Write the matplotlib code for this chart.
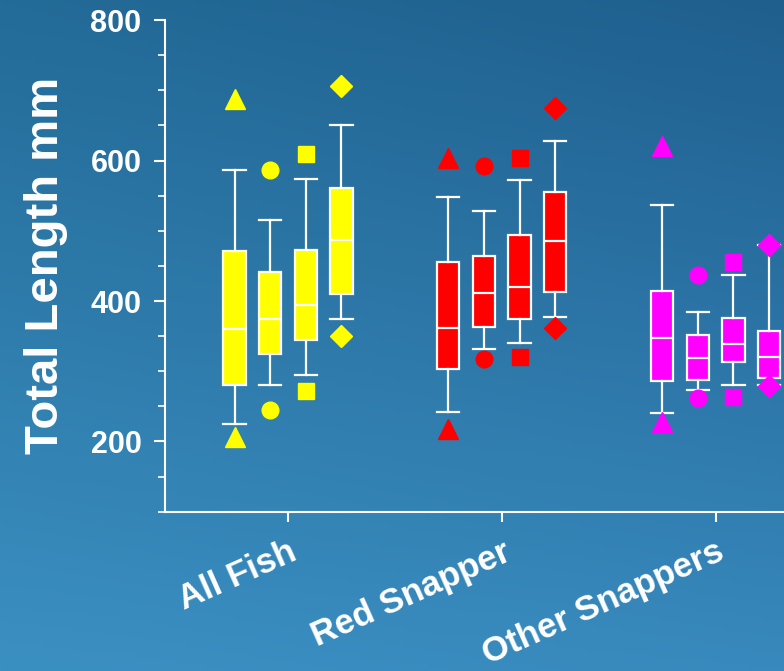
import numpy as np
import matplotlib
matplotlib.use("Agg")
import matplotlib.pyplot as plt
from matplotlib.ticker import MultipleLocator
from matplotlib.transforms import ScaledTranslation

plt.rcParams['font.family'] = ['Liberation Sans', 'DejaVu Sans']
plt.rcParams['font.weight'] = 'bold'

groups = ["All Fish", "Red Snapper", "Other Snappers"]
colors = ["#ffff00", "#ff0000", "#ff00ff"]
markers = ["^", "o", "s", "D"]
marker_sizes = [14, 12, 11, 11]

# per series (one per marker), values listed for the three groups
q1 = [[280, 303, 286], [325, 363, 287], [345, 374, 313], [410, 413, 290]]
med = [[360, 362, 347], [374, 411, 319], [395, 420, 339], [487, 486, 321]]
q3 = [[471, 455, 414], [441, 464, 352], [472, 494, 376], [561, 555, 357]]
whis_lo = [[225, 242, 241], [281, 331, 273], [295, 340, 280], [375, 377, 280]]
whis_hi = [[587, 548, 537], [515, 528, 385], [574, 573, 437], [650, 628, 480]]
low_pts = [[207, 218, 228], [245, 317, 262], [272, 321, 264], [350, 361, 279]]
high_pts = [[688, 603, 621], [586, 592, 437], [609, 604, 456], [706, 675, 480]]

fig = plt.figure(figsize=(7.84, 6.71), dpi=100)

# background gradient
bg = fig.add_axes([0, 0, 1, 1], zorder=-10)
tl = np.array([0x23, 0x6b, 0x98]) / 255
tr = np.array([0x1f, 0x5f, 0x8e]) / 255
bl = np.array([0x3b, 0x90, 0xc2]) / 255
br = np.array([0x38, 0x89, 0xbd]) / 255
yy, xx = np.mgrid[0:1:200j, 0:1:200j]
grad = ((1 - yy)[..., None] * ((1 - xx)[..., None] * tl + xx[..., None] * tr)
        + yy[..., None] * ((1 - xx)[..., None] * bl + xx[..., None] * br))
bg.imshow(grad, aspect='auto', extent=[0, 1, 0, 1])
bg.axis('off')

ax = fig.add_axes([0.2105, 0.2374, 0.7895, 0.7326])
ax.patch.set_alpha(0)

offsets = [-1.5 / 6, -0.5 / 6, 0.5 / 6, 1.5 / 6]
for k in range(4):
    for g in range(3):
        pos = g + 1 + offsets[k]
        stats = [dict(med=med[k][g], q1=q1[k][g], q3=q3[k][g],
                      whislo=whis_lo[k][g], whishi=whis_hi[k][g],
                      fliers=[low_pts[k][g], high_pts[k][g]])]
        ax.bxp(stats, positions=[pos], widths=0.104, patch_artist=True,
               manage_ticks=False,
               boxprops=dict(facecolor=colors[g], edgecolor='white', linewidth=1.6),
               medianprops=dict(color='white', linewidth=1.6),
               whiskerprops=dict(color='white', linewidth=1.6),
               capprops=dict(color='white', linewidth=1.6),
               capwidths=0.104,
               flierprops=dict(marker=markers[k], markerfacecolor=colors[g],
                               markeredgecolor=colors[g],
                               markersize=marker_sizes[k]))

ax.set_xlim(0.425, 3.32)
ax.set_ylim(100, 800)
ax.set_xticks([1, 2, 3])
ax.set_xticklabels(groups, rotation=24, ha='right', rotation_mode='anchor',
                   fontsize=25, color='white', fontweight='bold')
# nudge the slanted labels a little to the right of their ticks
shift = ScaledTranslation(15 / 100, 0, fig.dpi_scale_trans)
for lbl in ax.get_xticklabels():
    lbl.set_transform(lbl.get_transform() + shift)
ax.set_yticks([200, 400, 600, 800])
ax.yaxis.set_minor_locator(MultipleLocator(50))
ax.tick_params(axis='y', which='major', colors='white', labelsize=22, length=8, width=1.5, pad=9)
ax.tick_params(axis='y', which='minor', colors='white', length=5, width=1.2)
ax.tick_params(axis='x', colors='white', length=7, width=1.5, pad=10)
ax.set_ylabel("Total Length mm", fontsize=34, color='white', fontweight='bold', labelpad=16)

for side in ['top', 'right']:
    ax.spines[side].set_visible(False)
for side in ['left', 'bottom']:
    ax.spines[side].set_color('white')
    ax.spines[side].set_linewidth(1.5)

fig.savefig("out.png", dpi=100)
